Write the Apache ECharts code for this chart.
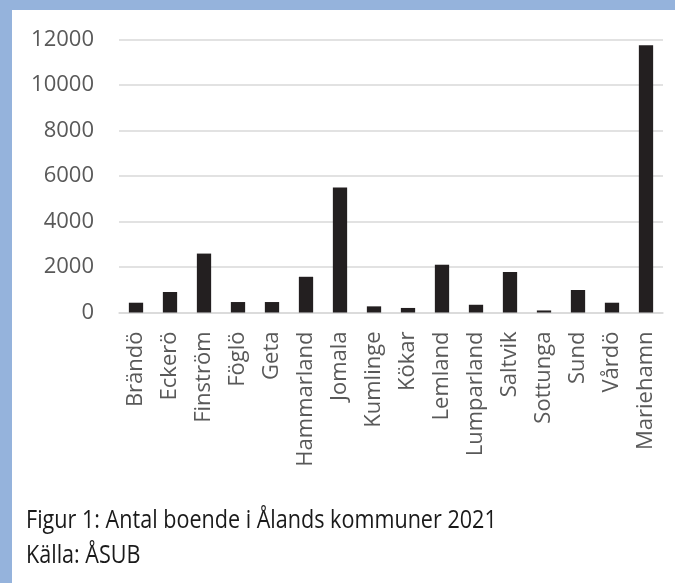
<!DOCTYPE html>
<html>
<head>
<meta charset="utf-8">
<script src="https://cdn.jsdelivr.net/npm/echarts@6/dist/echarts.min.js"></script>
<style>
html,body{margin:0;padding:0;background:#fff;}
#chart{width:675px;height:583px;}
</style>
</head>
<body>
<div id="chart"></div>
<script>
const categories = ['Brändö','Eckerö','Finström','Föglö','Geta','Hammarland','Jomala','Kumlinge','Kökar','Lemland','Lumparland','Saltvik','Sottunga','Sund','Vårdö','Mariehamn'];
const population = [430, 900, 2590, 460, 460, 1570, 5490, 270, 200, 2100, 340, 1780, 90, 990, 430, 11750];
const yTicks = [0, 2000, 4000, 6000, 8000, 10000, 12000];
const captionLine1 = 'Figur 1: Antal boende i Ålands kommuner 2021';
const captionLine2 = 'Källa: ÅSUB';

const chart = echarts.init(document.getElementById('chart'));
const font = '"Open Sans", "Noto Sans", sans-serif';
chart.setOption({
  backgroundColor: '#ffffff',
  animation: false,
  grid: { left: 119, right: 12, top: 39.5, bottom: 270.5, containLabel: false },
  xAxis: {
    type: 'category',
    data: categories,
    axisLine: { show: true, lineStyle: { color: '#d9d9d9', width: 1.5 } },
    axisTick: { show: false },
    axisLabel: { rotate: 90, interval: 0, margin: 19, fontSize: 22, color: '#595959', fontFamily: font }
  },
  yAxis: {
    type: 'value',
    min: yTicks[0],
    max: yTicks[yTicks.length - 1],
    interval: yTicks[1] - yTicks[0],
    axisLine: { show: false },
    axisTick: { show: false },
    splitLine: { lineStyle: { color: '#d9d9d9', width: 1.5 } },
    axisLabel: { margin: 25, fontSize: 22, color: '#595959', fontFamily: font, formatter: v => String(v) }
  },
  series: [{
    type: 'bar',
    data: population,
    barWidth: '42%',
    itemStyle: { color: '#231f20' }
  }],
  graphic: [
    { type: 'rect', left: 0, top: 0, shape: { width: 675, height: 10 }, style: { fill: '#95b3dc' }, z: 100 },
    { type: 'rect', left: 0, top: 0, shape: { width: 12, height: 583 }, style: { fill: '#95b3dc' }, z: 100 },
    { type: 'text', x: 26, y: 521, scaleX: 0.83, style: { text: captionLine1, fontSize: 26, fill: '#1a1a1a', fontFamily: font, verticalAlign: 'middle' } },
    { type: 'text', x: 26, y: 556, scaleX: 0.83, style: { text: captionLine2, fontSize: 26, fill: '#1a1a1a', fontFamily: font, verticalAlign: 'middle' } }
  ]
});
</script>
</body>
</html>
